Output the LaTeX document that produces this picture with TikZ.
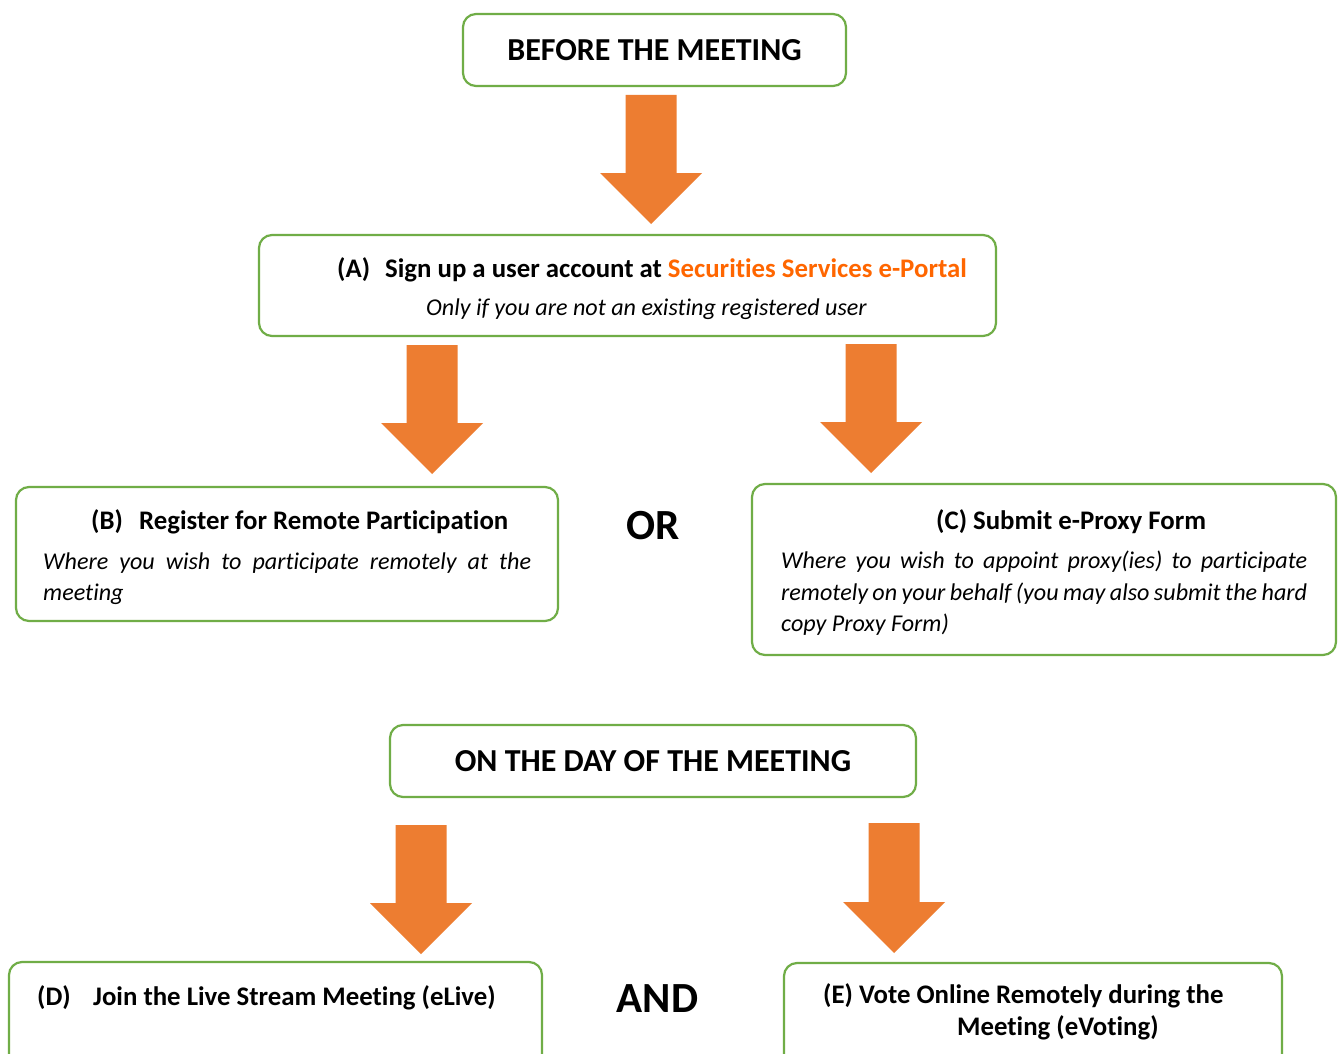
\documentclass[tikz,border=0pt]{standalone}
\usepackage{fontspec}
\setmainfont{Carlito}[Ligatures=NoCommon]
\definecolor{boxgreen}{HTML}{70AD47}
\definecolor{arroworange}{HTML}{ED7D31}
\definecolor{portal}{HTML}{FF6600}
\newcommand\dnarrow[3]{%
  \fill[arroworange] (#1-25.5,#2) -- (#1+25.5,#2) -- (#1+25.5,#3-51) -- (#1+51,#3-51)
    -- (#1,#3) -- (#1-51,#3-51) -- (#1-25.5,#3-51) -- cycle;}
\begin{document}
\begin{tikzpicture}[x=1pt,y=-1pt,
  box/.style={draw=boxgreen, line width=2.2pt, rounded corners=13pt, inner sep=0pt, fill=white},
  txt/.style={inner sep=0pt, anchor=base west},
  hd/.style={txt, font=\fontsize{26.8}{32}\selectfont\bfseries},
  it/.style={txt, font=\fontsize{24.1}{31}\selectfont\itshape},
  big/.style={inner sep=0pt, anchor=base, font=\fontsize{43}{48}\selectfont\bfseries},
  stage/.style={box, font=\fontsize{32}{38}\selectfont\bfseries}]
\useasboundingbox (0,0) rectangle (1341,1054);
\clip (0,0) rectangle (1341,1054);
\fill[white] (0,0) rectangle (1341,1054);

% boxes
\node[stage, minimum width=383pt, minimum height=72pt] (before) at (654.5,50) {BEFORE THE MEETING};
\node[box, minimum width=737pt, minimum height=101pt] (boxA) at (627.5,285.5) {};
\node[box, minimum width=542pt, minimum height=134pt] (boxB) at (287,554) {};
\node[box, minimum width=584pt, minimum height=171pt] (boxC) at (1044,569.5) {};
\node[stage, minimum width=526pt, minimum height=72pt] (onday) at (653,761) {ON THE DAY OF THE MEETING};
\node[box, minimum width=533pt, minimum height=118pt] (boxD) at (275.5,1021) {};
\node[box, minimum width=498pt, minimum height=117pt] (boxE) at (1033,1021.5) {};

% block arrows
\dnarrow{651}{95}{224}
\dnarrow{432}{345}{474}
\dnarrow{871}{344}{473}
\dnarrow{421}{825}{954}
\dnarrow{894}{823}{953}

% A
\node[hd] (alab) at (337,277) {(A)};
\node[hd] (atitle) at (385,277) {Sign up a user account at \textcolor{portal}{Securities Services e-Portal}};
\node[it, anchor=base] (anote) at (646.5,315.5) {Only if you are not an existing registered user};

% B
\node[hd] (blab) at (91,529) {(B)};
\node[hd] (btitle) at (139,529) {Register for Remote Participation};
\node[it] (bnote1) at (43,569) {\makebox[488pt][s]{Where you wish to participate remotely at the}};
\node[it] (bnote2) at (43,600) {meeting};

% OR
\node[big] (or) at (653,539) {OR};

% C
\node[hd] (ctitle) at (936,529) {(C) Submit e-Proxy Form};
\node[it] (cnote1) at (781,568.5) {\makebox[526pt][s]{Where you wish to appoint proxy(ies) to participate}};
\node[it] (cnote2) at (781,600) {\makebox[526pt][s]{remotely on your behalf (you may also submit the hard}};
\node[it] (cnote3) at (781,631) {copy Proxy Form)};

% D
\node[hd] (dlab) at (37,1005) {(D)};
\node[hd] (dtitle) at (93,1005) {Join the Live Stream Meeting (eLive)};

% AND
\node[big] (and) at (657.5,1012) {AND};

% E
\node[hd] (etitle1) at (823,1003) {(E) Vote Online Remotely during the};
\node[hd] (etitle2) at (957,1035) {Meeting (eVoting)};
\end{tikzpicture}
\end{document}
